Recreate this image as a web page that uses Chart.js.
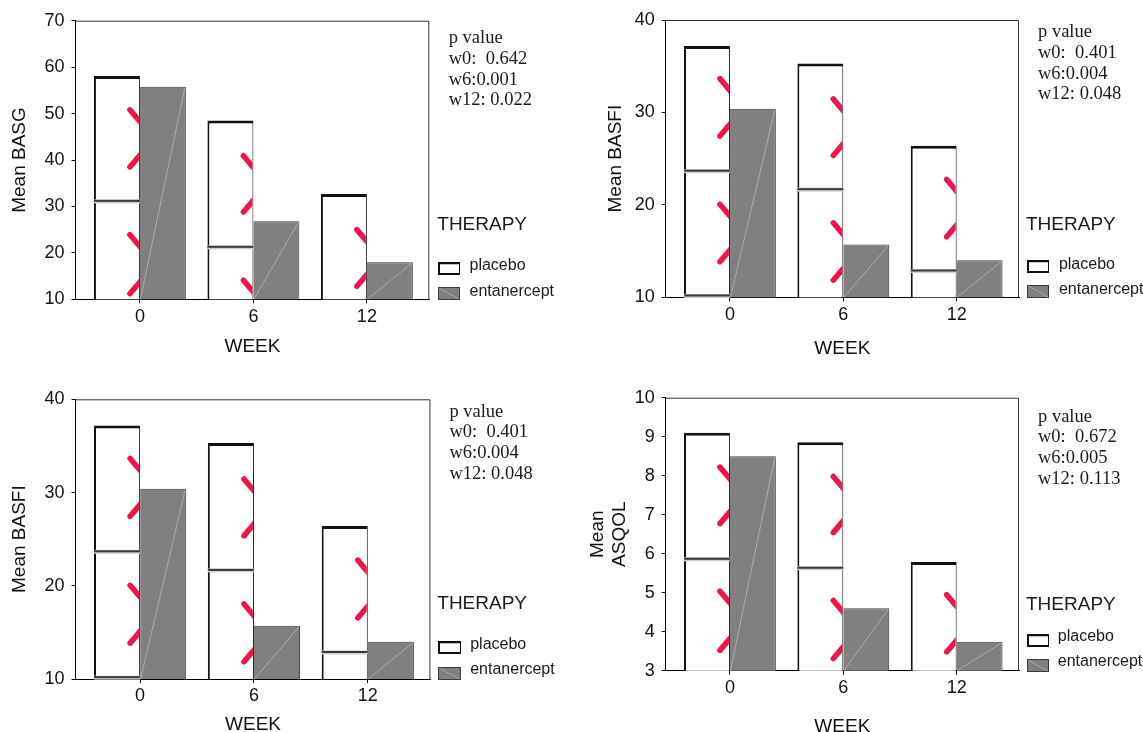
<!DOCTYPE html>
<html>
<head>
<meta charset="utf-8">
<script src="https://cdn.jsdelivr.net/npm/chart.js@4.4.1/dist/chart.umd.min.js"></script>
<style>
  html, body { margin: 0; padding: 0; background: #fff; overflow: hidden; width: 1143px; height: 732px; }
  canvas { position: absolute; left: 0; top: 0; }
  .note { position: absolute; font-family: "Liberation Serif", "Times New Roman", serif; font-size: 18.5px; line-height: 20.8px; color: #1a1a1a; white-space: pre; }
  .legtitle { position: absolute; font-family: "Liberation Sans", Arial, sans-serif; font-size: 19px; line-height: 19px; color: #1a1a1a; }
  .legtext { position: absolute; font-family: "Liberation Sans", Arial, sans-serif; font-size: 16px; line-height: 16px; color: #1a1a1a; white-space: nowrap; }
  .sw { position: absolute; box-sizing: border-box; height: 13px; }
  .sw.placebo { background: #fff; border: 2px solid #111; border-right-width: 1px; border-bottom-width: 2px; box-shadow: inset 0 1px 0 #c4c4c4; }
  .sw.etan { border: 1px solid #3c3c3c;
    background: linear-gradient(to top right, #808080 calc(50% - 0.6px), #b4b4b4 50%, #808080 calc(50% + 0.6px)); }
</style>
</head>
<body>
<canvas id="c0" width="1143" height="760"></canvas>
<canvas id="c1" width="1143" height="760"></canvas>
<canvas id="c2" width="1143" height="760"></canvas>
<canvas id="c3" width="1143" height="760"></canvas>
<script>
// ---- data ----
const weeks = [0, 6, 12];
const seriesNames = ["placebo", "entanercept"];

const basgPlacebo = [58.1, 48.5, 32.7];
const basgEtanercept = [55.8, 26.8, 18.0];
const basfiPlacebo = [37.2, 35.3, 26.4];
const basfiEtanercept = [30.4, 15.7, 14.0];
const asqolPlacebo = [9.1, 8.86, 5.79];
const asqolEtanercept = [8.5, 4.6, 3.74];

const basgRange = [10, 70, 10];
const basfiRange = [10, 40, 10];
const asqolRange = [3, 10, 1];

// horizontal lines printed inside the placebo bars
const basgInner = [[31.2], [21.3], []];
const basfiInner = [[23.7, 10.2], [21.7], [12.9]];
const asqolInner = [[5.87], [5.64], []];

// red marker strokes on the right edge of placebo bars: "\" (down) and "/" (up)
const basgMarkDown = [[49.3, 22.4], [39.4, 12.6], [23.5]];
const basgMarkUp = [[40.0, 12.7], [30.3], [14.3]];
const basfiMarkDown = [[32.9, 19.3], [30.7, 17.3], [22.0]];
const basfiMarkUp = [[28.2, 14.6], [26.1, 12.6], [17.3]];
const asqolMarkDown = [[8.04, 4.86], [7.80, 4.62], [4.77]];
const asqolMarkUp = [[6.95, 3.70], [6.72, 3.49], [3.66]];

const basgP = ["p value", "w0:  0.642", "w6:0.001", "w12: 0.022"];
const basfiP = ["p value", "w0:  0.401", "w6:0.004", "w12: 0.048"];
const asqolP = ["p value", "w0:  0.672", "w6:0.005", "w12: 0.113"];

// ---- panel layout ----
const panels = [
  { title: "Mean BASG", placebo: basgPlacebo, etan: basgEtanercept, range: basgRange,
    inner: basgInner, down: basgMarkDown, up: basgMarkUp, p: basgP,
    pad: { left: 8.6, top: 20.7, right: 713.7, bottom: 401.9 }, yWidth: 67, xHeight: 58.8,
    note: [448.7, 27.1],
    leg: { tx: 437.3, ty: 214, bx: 437.7, bw: 22.7, pb: 261.7, eb: 287, lx: 469.5, pt: 257.4, et: 282.9 } },
  { title: "Mean BASFI", placebo: basfiPlacebo, etan: basfiEtanercept, range: basfiRange,
    inner: basfiInner, down: basfiMarkDown, up: basfiMarkUp, p: basfiP,
    pad: { left: 604.3, top: 20, right: 124, bottom: 400.3 }, yWidth: 61.4, xHeight: 62.4,
    note: [1038, 21.1],
    leg: { tx: 1026, ty: 214, bx: 1027.4, bw: 21.2, pb: 260, eb: 285, lx: 1058.9, pt: 255.8, et: 281 } },
  { title: "Mean BASFI", placebo: basfiPlacebo, etan: basfiEtanercept, range: basfiRange,
    inner: basfiInner, down: basfiMarkDown, up: basfiMarkUp, p: basfiP,
    pad: { left: 8.6, top: 399.3, right: 712.6, bottom: 23.6 }, yWidth: 67, xHeight: 57.4,
    note: [449.4, 400.5],
    leg: { tx: 437.3, ty: 593.4, bx: 438.4, bw: 22.6, pb: 640.5, eb: 666.5, lx: 470.2, pt: 635.8, et: 661 } },
  { title: ["Mean", "ASQOL"], placebo: asqolPlacebo, etan: asqolEtanercept, range: asqolRange,
    inner: asqolInner, down: asqolMarkDown, up: asqolMarkUp, p: asqolP,
    pad: { left: 586, top: 397.7, right: 124, bottom: 21.9 }, yWidth: 79.7, xHeight: 67.4,
    note: [1038, 405.5],
    leg: { tx: 1026, ty: 594, bx: 1027.4, bw: 21.2, pb: 634.3, eb: 659, lx: 1057.8, pt: 628.1, et: 653.4 } }
];

Chart.defaults.font.family = '"Liberation Sans", Arial, Helvetica, sans-serif';
Chart.defaults.color = '#111';

const framePlugin = {
  id: 'frame',
  afterDraw(chart) {
    const { ctx, chartArea: a } = chart;
    ctx.save();
    ctx.strokeStyle = '#333';
    ctx.lineWidth = 1;
    ctx.beginPath();
    ctx.moveTo(a.left, a.top + 0.5);
    ctx.lineTo(a.right - 0.5, a.top + 0.5);
    ctx.lineTo(a.right - 0.5, a.bottom);
    ctx.stroke();
    ctx.restore();
  }
};

function seg(ctx, x1, y1, x2, y2) {
  ctx.beginPath();
  ctx.moveTo(x1, y1);
  ctx.lineTo(x2, y2);
  ctx.stroke();
}

function decorPlugin(pn) {
  return {
    id: 'decor',
    afterDatasetsDraw(chart) {
      const ctx = chart.ctx;
      const y = chart.scales.y;
      const bottom = chart.chartArea.bottom;
      const pl = chart.getDatasetMeta(0).data;
      const et = chart.getDatasetMeta(1).data;
      ctx.save();
      // faint diagonal inside entanercept bars
      ctx.strokeStyle = 'rgba(200,200,200,0.75)';
      ctx.lineWidth = 0.8;
      et.forEach(b => {
        const l = b.x - b.width / 2, r = b.x + b.width / 2;
        seg(ctx, l + 0.5, bottom, r - 1, b.y + 1);
      });
      pl.forEach((b, i) => {
        const l = b.x - b.width / 2, r = b.x + b.width / 2;
        pn.inner[i].forEach(v => {
          const py = y.getPixelForValue(v);
          ctx.fillStyle = '#cfcfcf';
          ctx.fillRect(l, py - 1.5, r - l, 4);
          ctx.fillStyle = '#3a3a3a';
          ctx.fillRect(l, py - 1, r - l, 2);
        });
        ctx.save();
        ctx.beginPath();
        ctx.rect(l, b.y, r - l - 1, bottom - b.y);
        ctx.clip();
        ctx.strokeStyle = '#f0144a';
        ctx.lineWidth = 5.5;
        ctx.lineCap = 'round';
        pn.down[i].forEach(v => {
          const py = y.getPixelForValue(v);
          seg(ctx, r - 10, py - 7, r + 1, py + 6);
        });
        pn.up[i].forEach(v => {
          const py = y.getPixelForValue(v);
          seg(ctx, r - 10, py + 7, r + 1, py - 6);
        });
        ctx.restore();
      });
      ctx.restore();
    }
  };
}

function makeChart(canvas, pn) {
  return new Chart(canvas, {
    type: 'bar',
    data: {
      datasets: [
        {
          label: seriesNames[0],
          data: weeks.map((w, i) => ({ x: w, y: pn.placebo[i] })),
          backgroundColor: '#ffffff',
          borderColor: '#111',
          borderWidth: { top: 3, left: 2, right: 1, bottom: 0 },
          borderSkipped: false,
          inflateAmount: 0
        },
        {
          label: seriesNames[1],
          data: weeks.map((w, i) => ({ x: w, y: pn.etan[i] })),
          backgroundColor: '#808080',
          borderColor: '#3c3c3c',
          borderWidth: { top: 1, left: 0, right: 1, bottom: 0 },
          borderSkipped: false,
          inflateAmount: 0
        }
      ]
    },
    options: {
      responsive: false,
      animation: false,
      devicePixelRatio: 1,
      categoryPercentage: 0.81,
      barPercentage: 1,
      layout: { padding: pn.pad },
      plugins: { legend: { display: false }, tooltip: { enabled: false } },
      scales: {
        x: {
          type: 'linear',
          min: -3.4,
          max: 15.3,
          offset: false,
          afterBuildTicks: s => { s.ticks = weeks.map(v => ({ value: v })); },
          afterFit: s => { s.height = pn.xHeight; },
          grid: { drawOnChartArea: false, drawTicks: true, tickLength: 4, color: '#000', offset: false },
          border: { display: true, color: '#000', width: 1 },
          ticks: { font: { size: 18 }, color: '#111', padding: 2.6, maxRotation: 0, autoSkip: false },
          title: { display: true, text: 'WEEK', font: { size: 19 }, color: '#111', padding: 0 }
        },
        y: {
          min: pn.range[0],
          max: pn.range[1],
          afterFit: s => { s.width = pn.yWidth; },
          grid: { drawOnChartArea: false, drawTicks: true, tickLength: 4, color: '#000' },
          border: { display: true, color: '#000', width: 1 },
          ticks: { stepSize: pn.range[2], font: { size: 18 }, color: '#111', padding: 7 },
          title: { display: true, text: pn.title, font: { size: 19 }, color: '#111', padding: 0 }
        }
      }
    },
    plugins: [decorPlugin(pn), framePlugin]
  });
}

function addDiv(cls, x, y, text, extra) {
  const d = document.createElement('div');
  d.className = cls;
  d.style.left = x + 'px';
  d.style.top = y + 'px';
  if (text) d.textContent = text;
  if (extra) Object.assign(d.style, extra);
  document.body.appendChild(d);
  return d;
}

panels.forEach((pn, k) => {
  makeChart(document.getElementById('c' + k), pn);
  addDiv('note', pn.note[0], pn.note[1], pn.p.join('\n'));
  const lg = pn.leg;
  addDiv('legtitle', lg.tx, lg.ty, 'THERAPY');
  addDiv('sw placebo', lg.bx, lg.pb, '', { width: lg.bw + 'px' });
  addDiv('sw etan', lg.bx, lg.eb, '', { width: lg.bw + 'px' });
  addDiv('legtext', lg.lx, lg.pt, seriesNames[0]);
  addDiv('legtext', lg.lx, lg.et, seriesNames[1]);
});
</script>
</body>
</html>
